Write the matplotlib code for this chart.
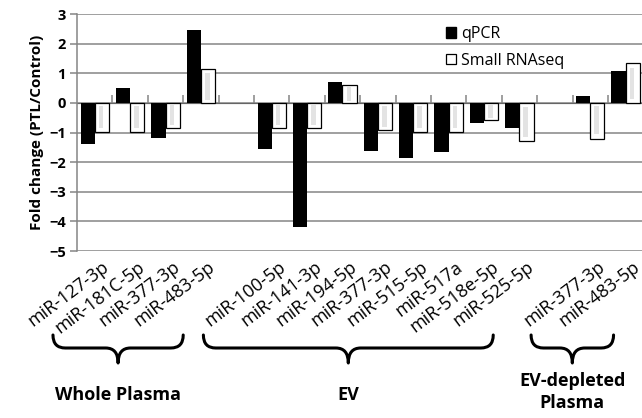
import matplotlib
matplotlib.use("Agg")
import matplotlib.pyplot as plt
import numpy as np
from matplotlib.path import Path
from matplotlib.patches import PathPatch, Patch
from matplotlib.transforms import blended_transform_factory, ScaledTranslation

plt.rcParams['font.family'] = ['Open Sans', 'DejaVu Sans']

# ---- data ----
groups = ["Whole Plasma", "EV", "EV-depleted\nPlasma"]
group_mirs = [
    ["miR-127-3p", "miR-181C-5p", "miR-377-3p", "miR-483-5p"],
    ["miR-100-5p", "miR-141-3p", "miR-194-5p", "miR-377-3p",
     "miR-515-5p", "miR-517a", "miR-518e-5p", "miR-525-5p"],
    ["miR-377-3p", "miR-483-5p"],
]
qpcr = [
    [-1.40, 0.50, -1.20, 2.45],
    [-1.57, -4.20, 0.71, -1.63, -1.87, -1.66, -0.69, -0.84],
    [0.24, 1.08],
]
rnaseq = [
    [-0.97, -0.97, -0.84, 1.14],
    [-0.84, -0.84, 0.60, -0.92, -0.98, -0.98, -0.58, -1.29],
    [-1.21, 1.33],
]
yticks = [3, 2, 1, 0, -1, -2, -3, -4, -5]

# brace extent relative to first/last category centre (slot units) - styling
brace_pad = [(-1.18, -0.5), (-1.93, -0.74), (-1.67, -0.34)]

# ---- positions (one empty slot between groups) ----
centers, labels, qv, rv, group_slots = [], [], [], [], []
slot = 0
for gi, mirs in enumerate(group_mirs):
    start = slot
    for j, m in enumerate(mirs):
        centers.append(slot + 0.5)
        labels.append(m)
        qv.append(qpcr[gi][j])
        rv.append(rnaseq[gi][j])
        slot += 1
    group_slots.append((start + 0.5, slot - 0.5))
    if gi < len(group_mirs) - 1:
        slot += 1
nslots = slot
centers = np.array(centers)
qv = np.array(qv)
rv = np.array(rv)

fig = plt.figure(figsize=(6.42, 4.18), dpi=100)
ax = fig.add_axes([0.12, 0.3995, 0.882, 0.567])

grid_c = '#858585'
w = 0.4
ax.bar(centers - 0.2, qv, width=w, color='black', zorder=3, label='qPCR')
ax.bar(centers + 0.2, rv, width=w, color='white', edgecolor='black',
       linewidth=0.9, zorder=3)
# inner light stripe of RNAseq bars
ax.bar(centers + 0.18, rv * 0.78, bottom=rv * 0.1, width=0.13,
       color='#e3e3e3', linewidth=0, zorder=4)

ax.set_xlim(0, nslots)
ax.set_ylim(-5, 3)
ax.set_yticks(yticks)
ax.set_yticklabels([str(t).replace('-', '\u2212') for t in yticks],
                   fontweight='bold', fontsize=10.5)
ax.yaxis.grid(True, color=grid_c, linewidth=1.1, zorder=0)
ax.set_axisbelow(True)
for s in ['top', 'right', 'bottom']:
    ax.spines[s].set_visible(False)
ax.spines['left'].set_color(grid_c)
ax.spines['left'].set_linewidth(1.1)
ax.tick_params(axis='y', length=5, color=grid_c, width=1.1, pad=3)

ax.set_xticks(centers)
ax.set_xticklabels(labels, rotation=37, ha='right', va='top',
                   rotation_mode='anchor', fontsize=13)
ax.tick_params(axis='x', length=0, pad=5)
shift = ScaledTranslation(7 / 100, 0, fig.dpi_scale_trans)
for lab in ax.xaxis.get_majorticklabels():
    lab.set_transform(lab.get_transform() + shift)

# boundary ticks on zero line
sec = ax.secondary_xaxis(5 / 8)
sec.set_xticks(np.arange(1, nslots))
sec.set_xticklabels([])
sec.tick_params(axis='x', direction='out', length=6, color=grid_c, width=1.1)
sec.spines['bottom'].set_visible(False)

ax.set_ylabel('Fold change (PTL/Control)', fontweight='bold', fontsize=11,
              labelpad=4)

handles = [Patch(facecolor='black', edgecolor='black'),
           Patch(facecolor='white', edgecolor='black', linewidth=0.9)]
ax.legend(handles, ['qPCR', 'Small RNAseq'], loc='upper left',
          bbox_to_anchor=(0.64, 0.975), frameon=False, fontsize=11.5,
          handlelength=0.65, handleheight=0.65, handletextpad=0.3,
          labelspacing=0.65, borderaxespad=0)

# ---- braces ----
tr = blended_transform_factory(ax.transData, fig.transFigure)
H = 418.0
y_top = 1 - 335 / H
y_mid = 1 - 348 / H
y_tip = 1 - 363 / H
r = 0.35
for (first, last), g, (p0, p1) in zip(group_slots, groups, brace_pad):
    x0 = first + p0
    x1 = last + p1
    xc = (x0 + x1) / 2
    verts = [(x0, y_top), (x0, y_mid), (x0 + r, y_mid),
             (xc - r, y_mid),
             (xc, y_mid), (xc, y_tip),
             (xc, y_mid), (xc + r, y_mid),
             (x1 - r, y_mid),
             (x1, y_mid), (x1, y_top)]
    codes = [Path.MOVETO, Path.CURVE3, Path.CURVE3,
             Path.LINETO,
             Path.CURVE3, Path.CURVE3,
             Path.CURVE3, Path.CURVE3,
             Path.LINETO,
             Path.CURVE3, Path.CURVE3]
    patch = PathPatch(Path(verts, codes), transform=tr, facecolor='none',
                      edgecolor='black', linewidth=2.2, clip_on=False,
                      capstyle='round', joinstyle='round')
    fig.add_artist(patch)
    n_lines = g.count('\n') + 1
    ty = 1 - (395 if n_lines == 1 else 392) / H
    ax.text(xc, ty, g, transform=tr, ha='center', va='center',
            fontweight='bold', fontsize=13, linespacing=1.35,
            clip_on=False)

fig.savefig('out.png', dpi=100)
